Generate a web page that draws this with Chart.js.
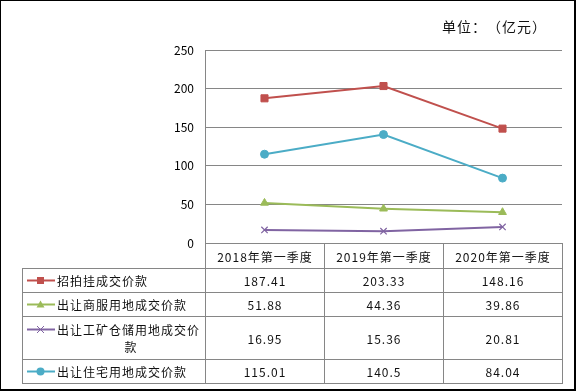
<!DOCTYPE html>
<html>
<head>
<meta charset="utf-8">
<script src="https://cdn.jsdelivr.net/npm/chart.js@4.4.0/dist/chart.umd.min.js"></script>
<style>
  html, body { margin: 0; padding: 0; background: #fff; }
  #wrap { position: relative; width: 576px; height: 391px; overflow: hidden; font-family: "Noto Sans CJK SC", sans-serif; text-spacing-trim: space-all; }
  #frame { position: absolute; left: 0; top: 0; width: 576px; height: 391px; box-sizing: border-box;
           border-left: 1px solid #000; border-top: 1px solid #000; border-right: 2px solid #000; border-bottom: 2px solid #000; pointer-events: none; }
  #chart { position: absolute; left: 0; top: 0; }
  #unit { position: absolute; left: 442px; top: 16px; font-size: 14px; letter-spacing: 1px; color: #111; line-height: 20px; white-space: nowrap; text-spacing-trim: space-all; }
  #tbl { position: absolute; border-collapse: collapse; table-layout: fixed; font-size: 12px; color: #111; }
  #tbl td { border: 1px solid #868686; padding: 0; text-align: center; vertical-align: middle; letter-spacing: 1px; line-height: 17px; }
  #tbl td.blank { border: none; border-right: 1px solid #868686; border-bottom: 1px solid #868686; }
  #tbl td.name { text-align: left; }
  .nm { display: flex; align-items: flex-start; }
  .nm svg { flex: none; margin: 3px 2px 0 4px; }
  .nm span { width: 148px; }
  .nm span.wrap { text-align: left; text-align-last: center; }
  .hd { letter-spacing: 0.5px; }
</style>
</head>
<body>
<div id="wrap">
  <canvas id="chart" width="576" height="391"></canvas>
  <div id="unit">单位：（亿元）</div>
  <table id="tbl"></table>
  <div id="frame"></div>
</div>
<script>
'use strict';

/* --- Data --- */
const categories = ['2018年第一季度', '2019年第一季度', '2020年第一季度'];
const seriesNames = ['招拍挂成交价款', '出让商服用地成交价款', '出让工矿仓储用地成交价款', '出让住宅用地成交价款'];
const auctionValues = [187.41, 203.33, 148.16];
const commercialValues = [51.88, 44.36, 39.86];
const industrialValues = [16.95, 15.36, 20.81];
const residentialValues = [115.01, 140.5, 84.04];
const yTicks = [0, 50, 100, 150, 200, 250];

const seriesValues = [auctionValues, commercialValues, industrialValues, residentialValues];
const colors = ['#C0504D', '#9BBB59', '#8064A2', '#4BACC6'];
const pointStyles = ['rect', 'triangle', 'crossRot', 'circle'];
const pointRadii = [5, 4.5, 4.5, 4];

const rowHeights = [24, 24, 43, 24];

/* --- Chart --- */
const chart = new Chart(document.getElementById('chart'), {
  type: 'line',
  data: {
    labels: categories,
    datasets: seriesNames.map((name, i) => ({
      label: name,
      data: seriesValues[i],
      borderColor: colors[i],
      backgroundColor: colors[i],
      borderWidth: 2,
      tension: 0,
      fill: false,
      pointStyle: pointStyles[i],
      pointRadius: pointRadii[i],
      pointBorderWidth: i === 2 ? 1.2 : 1,
      pointBackgroundColor: colors[i],
      pointBorderColor: colors[i]
    }))
  },
  options: {
    responsive: false,
    animation: false,
    layout: { padding: { left: 0, top: 50, right: 14, bottom: 148 } },
    plugins: { legend: { display: false }, tooltip: { enabled: false } },
    scales: {
      x: { display: false, offset: true },
      y: {
        min: yTicks[0], max: yTicks[yTicks.length - 1],
        afterBuildTicks: s => { s.ticks = yTicks.map(v => ({ value: v })); },
        afterFit: s => { s.width = 205; },
        grid: { color: '#868686', drawTicks: false, lineWidth: 1 },
        border: { display: true, color: '#868686' },
        ticks: { color: '#000', padding: 11, font: { family: 'Noto Sans CJK SC', size: 12 } }
      }
    }
  }
});

/* --- Data table under the plot --- */
function markerSvg(i) {
  const c = colors[i];
  let m = '';
  if (pointStyles[i] === 'rect') m = `<rect x="10" y="2" width="7" height="7" fill="${c}"/>`;
  if (pointStyles[i] === 'triangle') m = `<polygon points="13.5,1.5 17.5,8.5 9.5,8.5" fill="${c}"/>`;
  if (pointStyles[i] === 'crossRot') m = `<path d="M10 2 L17 9 M17 2 L10 9" stroke="${c}" stroke-width="1"/>`;
  if (pointStyles[i] === 'circle') m = `<circle cx="13.5" cy="5.5" r="4" fill="${c}"/>`;
  return `<svg width="28" height="11"><line x1="0" y1="5.5" x2="28" y2="5.5" stroke="${c}" stroke-width="2"/>${m}</svg>`;
}

function buildTable() {
  const area = chart.chartArea;
  const colW = (area.right - area.left) / categories.length;
  const tableLeft = 22;
  const tbl = document.getElementById('tbl');
  tbl.style.left = tableLeft + 'px';
  tbl.style.top = area.bottom + 'px';
  let html = `<colgroup><col style="width:${area.left - tableLeft}px">`;
  categories.forEach(() => { html += `<col style="width:${colW}px">`; });
  html += '</colgroup>';
  html += '<tr style="height:25px"><td class="blank"></td>';
  categories.forEach(c => { html += `<td class="hd">${c}</td>`; });
  html += '</tr>';
  seriesNames.forEach((name, i) => {
    const wrap = name.length > 11 ? ' class="wrap"' : '';
    html += `<tr style="height:${rowHeights[i]}px"><td class="name"><div class="nm">${markerSvg(i)}<span${wrap}>${name}</span></div></td>`;
    seriesValues[i].forEach(v => { html += `<td>${v}</td>`; });
    html += '</tr>';
  });
  tbl.innerHTML = html;
}
buildTable();
</script>
</body>
</html>
